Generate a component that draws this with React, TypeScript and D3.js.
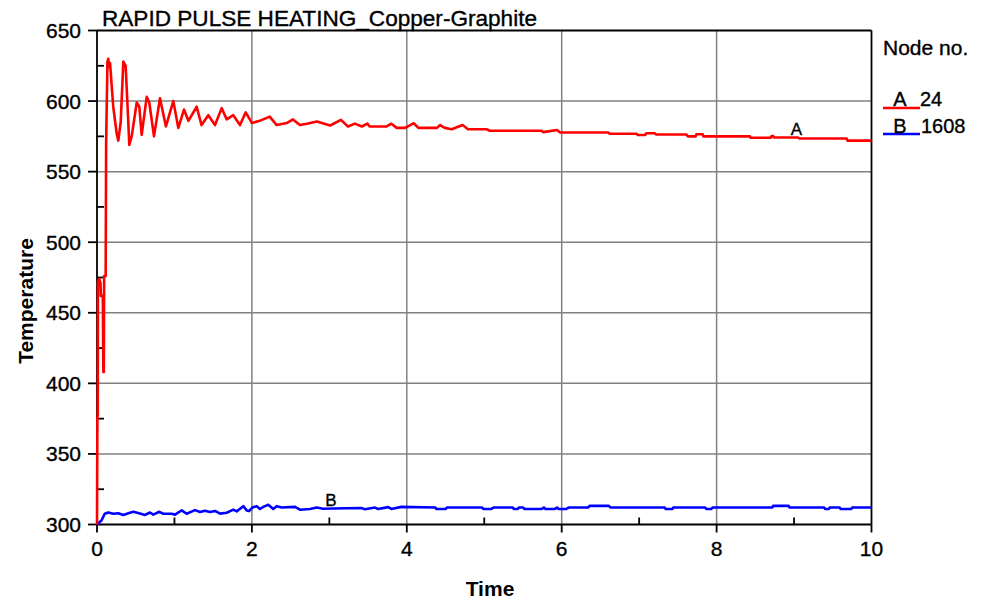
import React from 'react'
import * as d3 from 'd3'

// node A (24) - red curve
const nodeATime = [
  0, 0.005, 0.01, 0.012, 0.03, 0.045, 0.05, 0.075, 0.082, 0.088, 0.092, 0.112,
  0.118, 0.135, 0.146, 0.155, 0.168, 0.21, 0.254, 0.275, 0.306, 0.34, 0.37,
  0.404, 0.417, 0.448, 0.513, 0.546, 0.577, 0.642, 0.675, 0.736, 0.813, 0.89,
  0.985, 1.05, 1.123, 1.18, 1.287, 1.35, 1.437, 1.524, 1.61, 1.675, 1.76,
  1.846, 1.92, 2.0, 2.1, 2.23, 2.32, 2.45, 2.53, 2.62, 2.71, 2.84, 3.01, 3.15,
  3.24, 3.33, 3.42, 3.49, 3.52, 3.74, 3.8, 3.87, 3.98, 4.09, 4.15, 4.39, 4.43,
  4.49, 4.58, 4.72, 4.79, 5.03, 5.07, 5.74, 5.76, 5.94, 5.98, 6.6, 6.62, 6.97,
  6.98, 7.08, 7.09, 7.2, 7.22, 7.61, 7.63, 7.73, 7.74, 7.82, 7.83, 8.43, 8.44,
  8.7, 8.71, 8.73, 8.74, 9.05, 9.07, 9.68, 9.69, 10
]
const nodeATemp = [
  300, 375, 378, 472, 474, 471, 462, 462, 408, 408, 476, 476,
  570, 628, 630, 624, 627, 596, 577, 572, 585, 628, 625,
  585, 569, 575, 599, 596, 576, 603, 599, 575, 602, 582,
  600, 581, 594, 586, 596, 583, 590, 583, 595, 587, 590,
  583, 592, 584.5, 586, 589, 583, 584.4, 587, 583, 584, 585.5, 582.7, 586.7,
  582, 584, 582, 584, 582, 582, 584, 581, 581, 584.3, 581, 581, 583,
  581, 580, 583, 580, 580, 579, 579, 578, 579.5, 577.7, 577.7, 576.8, 576.8,
  576, 576, 577.2, 577.2, 576.3, 576.3, 575, 575, 576.5, 576.5, 575, 575, 574,
  574, 575.3, 575.3, 574.2, 574.2, 573.5, 573.5, 572, 572
]

// node B (1608) - blue curve
const nodeBTime = [
  0, 0.06, 0.1, 0.146, 0.21, 0.275, 0.34, 0.404, 0.47, 0.555, 0.62, 0.684,
  0.727, 0.805, 0.856, 0.964, 1.007, 1.094, 1.158, 1.265, 1.33, 1.394, 1.459,
  1.524, 1.588, 1.675, 1.76, 1.804, 1.889, 1.933, 1.963, 2.005, 2.062, 2.105,
  2.147, 2.212, 2.276, 2.32, 2.385, 2.557, 2.62, 2.75, 2.837, 2.92, 3.2, 3.418,
  3.46, 3.59, 3.63, 3.76, 3.8, 3.93, 4.37, 4.38, 4.5, 4.52, 4.97, 4.99, 5.09,
  5.12, 5.37, 5.38, 5.43, 5.45, 5.5, 5.52, 5.74, 5.77, 5.79, 5.91, 5.94, 5.96,
  6.06, 6.09, 6.34, 6.36, 6.61, 6.63, 7.33, 7.34, 7.43, 7.44, 7.85, 7.87, 7.93,
  7.95, 8.72, 8.73, 8.93, 8.94, 9.39, 9.4, 9.45, 9.46, 9.59, 9.6, 9.74, 9.75, 10
]
const nodeBTemp = [
  300, 303, 307.6, 308.5, 307.6, 308, 306.8, 308, 309, 307.8, 306.8, 308.5,
  307, 309, 307.6, 307.6, 307, 310, 307.6, 310.2, 308.8, 309.8, 308.8,
  309.6, 307.7, 308.3, 310.5, 309.3, 313, 309.9, 309.5, 312, 313, 311,
  312.5, 314, 311, 313, 312, 312.5, 310.5, 311, 312, 311.2, 311.5, 311.6,
  310.8, 312, 311, 312.3, 311, 312.5, 312, 311, 311, 312, 312, 311, 311,
  312, 312, 311, 311, 312, 312, 311, 311, 312, 311, 311, 312, 311,
  311, 312, 312, 313.2, 313.2, 312, 312, 311, 311, 312, 312, 311, 311,
  312, 312, 313.2, 313.2, 312, 312, 311, 311, 312, 312, 311, 311, 312, 312
]

const xTicks = [0, 2, 4, 6, 8, 10]
const xMinorTicks = [1, 3, 5, 7, 9]
const yTicks = [300, 350, 400, 450, 500, 550, 600, 650]
const yMinorTicks = [325, 375, 425, 475, 525, 575, 625]

const font = 'Arial, "Liberation Sans", sans-serif'

const App = () => {
  const left = 97
  const right = 871.5
  const top = 30.5
  const bottom = 524.5

  const x = d3.scaleLinear().domain([0, 10]).range([left, right])
  const y = d3.scaleLinear().domain([300, 650]).range([bottom, top])

  const pathA = d3
    .line<number>()
    .x((d) => x(d))
    .y((d, i) => y(nodeATemp[i]))(nodeATime)
  const pathB = d3
    .line<number>()
    .x((d) => x(d))
    .y((d, i) => y(nodeBTemp[i]))(nodeBTime)

  const grid = { stroke: '#808080', strokeWidth: 1.5 }
  const axis = { stroke: '#000', strokeWidth: 1.8 }
  // the original text looks a little heavier than a plain regular face
  const ink = { stroke: '#000', strokeWidth: 0.35 }

  return (
    <svg
      width={990}
      height={601}
      style={{ position: 'absolute', left: 0, top: 0, background: '#fff' }}
      fontFamily={font}
    >
      {/* grid */}
      {xTicks.slice(1, -1).map((t) => (
        <line key={'gx' + t} x1={x(t)} x2={x(t)} y1={top} y2={bottom} style={grid} />
      ))}
      {yTicks.slice(1, -1).map((t) => (
        <line key={'gy' + t} x1={left} x2={right} y1={y(t)} y2={y(t)} style={grid} />
      ))}

      {/* frame */}
      <line x1={left} x2={right} y1={top} y2={top} style={axis} />
      <line x1={right} x2={right} y1={top} y2={bottom} style={axis} />
      <line x1={left} x2={right} y1={bottom} y2={bottom} style={axis} />
      <line x1={left} x2={left} y1={top} y2={bottom} style={axis} />

      {/* ticks */}
      {xTicks.map((t) => (
        <g key={'tx' + t}>
          <line x1={x(t)} x2={x(t)} y1={bottom} y2={bottom + 8} style={axis} />
          <text x={x(t)} y={bottom + 31} fontSize={21} textAnchor="middle" style={ink}>
            {t}
          </text>
        </g>
      ))}
      {xMinorTicks.map((t) => (
        <line key={'mx' + t} x1={x(t)} x2={x(t)} y1={bottom} y2={bottom - 7} style={axis} />
      ))}
      {yTicks.map((t) => (
        <g key={'ty' + t}>
          <line x1={left - 9} x2={left} y1={y(t)} y2={y(t)} style={axis} />
          <text x={left - 16} y={y(t) + 7.5} fontSize={21} textAnchor="end" style={ink}>
            {t}
          </text>
        </g>
      ))}
      {yMinorTicks.map((t) => (
        <line key={'my' + t} x1={left} x2={left + 7} y1={y(t)} y2={y(t)} style={axis} />
      ))}

      {/* curves */}
      <path d={pathB} fill="none" stroke="#0000ff" strokeWidth={2.6} strokeLinejoin="round" />
      <path d={pathA} fill="none" stroke="#ff0000" strokeWidth={2.6} strokeLinejoin="round" />

      {/* curve labels */}
      <text x={x(9.03)} y={y(574.2) - 2} fontSize={17} textAnchor="middle" style={ink}>A</text>
      <text x={x(3.02)} y={y(311.5) - 2} fontSize={17} textAnchor="middle" style={ink}>B</text>

      {/* title and axis titles */}
      <text x={102} y={26} fontSize={22} textLength={435} lengthAdjust="spacingAndGlyphs" style={ink}>
        RAPID PULSE HEATING_Copper-Graphite
      </text>
      <text x={490} y={596} fontSize={21} fontWeight="bold" textAnchor="middle">
        Time
      </text>
      <text
        transform="translate(33,301) rotate(-90)"
        fontSize={21}
        fontWeight="bold"
        textAnchor="middle"
      >
        Temperature
      </text>

      {/* legend */}
      <text x={883} y={55} fontSize={21} style={ink}>Node no.</text>
      <line x1={883} x2={920} y1={108} y2={108} stroke="#ff0000" strokeWidth={2.6} />
      <text x={900} y={106} fontSize={20} textAnchor="middle" style={ink}>A</text>
      <text x={920} y={106} fontSize={20} style={ink}>24</text>
      <line x1={883} x2={920} y1={134} y2={134} stroke="#0000ff" strokeWidth={2.6} />
      <text x={900} y={133} fontSize={20} textAnchor="middle" style={ink}>B</text>
      <text x={921} y={133} fontSize={20} style={ink}>1608</text>
    </svg>
  )
}

export default App
